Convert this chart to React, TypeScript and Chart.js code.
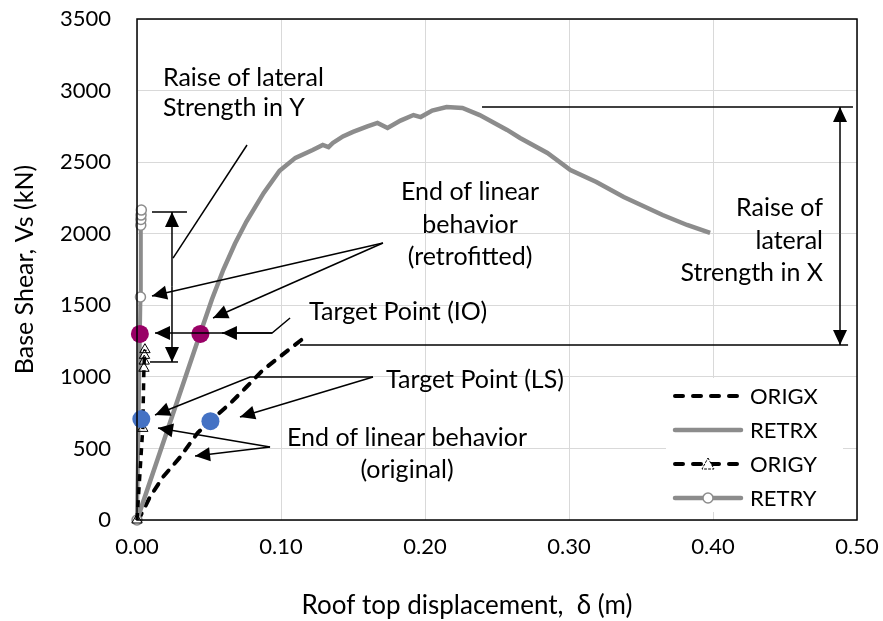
import React, { useEffect, useRef } from "react";
import { Chart, registerables } from "chart.js";

Chart.register(...registerables);

// Axis ticks
const xTickValues = [0, 0.1, 0.2, 0.3, 0.4, 0.5];
const yTickValues = [0, 500, 1000, 1500, 2000, 2500, 3000, 3500];

// Pushover curves: roof top displacement (m) vs base shear (kN)
const origXDisp = [0, 0.002, 0.009, 0.018, 0.03, 0.042, 0.051, 0.065, 0.076, 0.0875, 0.099, 0.115];
const origXShear = [0, 21, 161, 300, 440, 608, 692, 817, 929, 1048, 1139, 1265];

const retrXDisp = [
  0, 0.044, 0.052, 0.06, 0.068, 0.076, 0.088, 0.099, 0.11, 0.122, 0.129, 0.133, 0.136, 0.143, 0.15,
  0.16, 0.167, 0.174, 0.183, 0.192, 0.197, 0.205, 0.215, 0.226, 0.238, 0.257, 0.266, 0.285, 0.301,
  0.319, 0.338, 0.365, 0.382, 0.398,
];
const retrXShear = [
  0, 1306, 1540, 1750, 1930, 2085, 2285, 2440, 2530, 2585, 2620, 2605, 2634, 2680, 2711,
  2750, 2774, 2739, 2790, 2829, 2815, 2860, 2885, 2878, 2829, 2725, 2669, 2564, 2445,
  2361, 2257, 2131, 2061, 2005,
];

const origYDisp = [0, 0.004, 0.0048, 0.005, 0.0052, 0.0055];
const origYShear = [0, 640, 1060, 1110, 1150, 1190];

const retrYDisp = [0, 0.0024, 0.0026, 0.0027, 0.0028, 0.003];
const retrYShear = [0, 1558, 2060, 2100, 2130, 2165];

// Performance targets
const targetIODisp = [0.002, 0.044];
const targetIOShear = [1300, 1300];
const targetLSDisp = [0.003, 0.051];
const targetLSShear = [705, 690];

const seriesNames = ["ORIGX", "RETRX", "ORIGY", "RETRY"];

const GRAY = "#8C8C8C";
const FONT = "Lato, 'Open Sans', sans-serif";

const zip = (xs: number[], ys: number[]) => xs.map((x, i) => ({ x, y: ys[i] }));

type P = [number, number];

// Callout labels (data units)
const calloutTexts: { t: string; at: P; align: CanvasTextAlign }[] = [
  { t: "Raise of lateral", at: [0.018, 3088], align: "left" },
  { t: "Strength in Y", at: [0.018, 2878], align: "left" },
  { t: "End of linear", at: [0.2313, 2291], align: "center" },
  { t: "behavior", at: [0.2313, 2061], align: "center" },
  { t: "(retrofitted)", at: [0.2313, 1837], align: "center" },
  { t: "Target Point (IO)", at: [0.1813, 1453], align: "center" },
  { t: "Target Point (LS)", at: [0.2347, 978], align: "center" },
  { t: "End of linear behavior", at: [0.1875, 573], align: "center" },
  { t: "(original)", at: [0.1875, 349], align: "center" },
  { t: "Raise of", at: [0.4764, 2180], align: "right" },
  { t: "lateral", at: [0.4764, 1949], align: "right" },
  { t: "Strength in X", at: [0.4764, 1726], align: "right" },
];

// Plain leader lines
const leaderLines: P[][] = [
  [[0.0764, 2620], [0.025, 1830]],
  [[0.0104, 2152], [0.0347, 2152]],
  [[0.009, 1104], [0.0285, 1104]],
  [[0.2396, 2885], [0.4972, 2885]],
  [[0.1132, 1223], [0.4938, 1223]],
];

// Leader lines ending in an arrowhead
const arrowLines: P[][] = [
  [[0.0243, 1630], [0.0243, 2152]],
  [[0.0243, 1630], [0.0243, 1104]],
  [[0.1708, 1935], [0.0104, 1565]],
  [[0.1708, 1935], [0.0528, 1411]],
  [[0.1063, 1411], [0.0938, 1306], [0.0125, 1306]],
  [[0.0938, 1306], [0.059, 1306]],
  [[0.1639, 999], [0.0785, 999], [0.0125, 734]],
  [[0.1639, 999], [0.0715, 720]],
  [[0.0924, 510], [0.0146, 643]],
  [[0.0924, 510], [0.0403, 447]],
  [[0.4882, 2000], [0.4882, 2885]],
  [[0.4882, 2000], [0.4882, 1223]],
];

function drawArrowHead(ctx: CanvasRenderingContext2D, fx: number, fy: number, tx: number, ty: number) {
  const ang = Math.atan2(ty - fy, tx - fx);
  const len = 15;
  const half = 7;
  const bx = tx - len * Math.cos(ang);
  const by = ty - len * Math.sin(ang);
  ctx.beginPath();
  ctx.moveTo(tx, ty);
  ctx.lineTo(bx + half * Math.sin(ang), by - half * Math.cos(ang));
  ctx.lineTo(bx - half * Math.sin(ang), by + half * Math.cos(ang));
  ctx.closePath();
  ctx.fill();
}

const decorPlugin = {
  id: "decor",
  afterDatasetsDraw(chart: any) {
    const { ctx, chartArea: ca, scales } = chart;
    const px = (p: P): [number, number] => [scales.x.getPixelForValue(p[0]), scales.y.getPixelForValue(p[1])];
    ctx.save();

    // Legend box inside the plot, bottom right
    const boxR = ca.right - 14;
    const boxB = ca.bottom - 8;
    const boxL = boxR - 177;
    const boxT = boxB - 134;
    ctx.fillStyle = "#fff";
    ctx.fillRect(boxL, boxT, boxR - boxL, boxB - boxT);
    const rowH = 34;
    seriesNames.forEach((name, i) => {
      const cy = boxT + 18 + i * rowH;
      const x0 = boxL + 7;
      const x1 = x0 + 70;
      ctx.save();
      ctx.lineCap = "round";
      if (i === 0 || i === 2) {
        ctx.strokeStyle = "#000";
        ctx.lineWidth = 4;
        ctx.setLineDash([8, 10]);
      } else {
        ctx.strokeStyle = GRAY;
        ctx.lineWidth = 4.5;
        ctx.setLineDash([]);
      }
      ctx.beginPath();
      ctx.moveTo(x0 + 2, cy);
      ctx.lineTo(x1 - 2, cy);
      ctx.stroke();
      ctx.setLineDash([]);
      const mx = (x0 + x1) / 2;
      if (i === 2) {
        ctx.setLineDash([2, 2]);
        ctx.lineWidth = 1;
        ctx.fillStyle = "#fff";
        ctx.beginPath();
        ctx.moveTo(mx, cy - 6);
        ctx.lineTo(mx + 6, cy + 5);
        ctx.lineTo(mx - 6, cy + 5);
        ctx.closePath();
        ctx.fill();
        ctx.stroke();
      } else if (i === 3) {
        ctx.lineWidth = 1.5;
        ctx.fillStyle = "#fff";
        ctx.beginPath();
        ctx.arc(mx, cy, 5, 0, Math.PI * 2);
        ctx.fill();
        ctx.stroke();
      }
      ctx.restore();
      ctx.fillStyle = "#000";
      ctx.font = `22px ${FONT}`;
      ctx.textAlign = "left";
      ctx.textBaseline = "middle";
      ctx.fillText(name, x1 + 7, cy + 1);
    });

    // Callouts
    ctx.strokeStyle = "#000";
    ctx.fillStyle = "#000";
    ctx.lineWidth = 1.5;
    ctx.setLineDash([]);
    leaderLines.forEach((line) => {
      ctx.beginPath();
      line.forEach((p, i) => {
        const [x, y] = px(p);
        if (i === 0) ctx.moveTo(x, y);
        else ctx.lineTo(x, y);
      });
      ctx.stroke();
    });
    arrowLines.forEach((line) => {
      const pts = line.map(px);
      ctx.beginPath();
      pts.forEach(([x, y], i) => {
        if (i === 0) ctx.moveTo(x, y);
        else ctx.lineTo(x, y);
      });
      ctx.stroke();
      const a = pts[pts.length - 2];
      const b = pts[pts.length - 1];
      drawArrowHead(ctx, a[0], a[1], b[0], b[1]);
    });

    ctx.font = `25px ${FONT}`;
    ctx.textBaseline = "middle";
    calloutTexts.forEach(({ t, at, align }) => {
      const [x, y] = px(at);
      ctx.textAlign = align;
      ctx.fillText(t, x, y);
    });

    // Plot area frame
    ctx.lineWidth = 1.5;
    ctx.strokeRect(ca.left, ca.top, ca.right - ca.left, ca.bottom - ca.top);

    // Axis titles
    ctx.font = `26px ${FONT}`;
    ctx.textAlign = "center";
    ctx.fillText("Roof top displacement,  \u03B4 (m)", ca.left + 330, ca.bottom + 86);
    ctx.font = `25px ${FONT}`;
    ctx.translate(25, (ca.top + ca.bottom) / 2);
    ctx.rotate(-Math.PI / 2);
    ctx.fillText("Base Shear, Vs (kN)", 0, 0);
    ctx.restore();
  },
};

export default function App() {
  const canvasRef = useRef<HTMLCanvasElement | null>(null);

  useEffect(() => {
    const canvas = canvasRef.current;
    if (!canvas) return;
    const chart = new Chart(canvas, {
      type: "scatter",
      data: {
        datasets: [
          {
            label: "Target Point (IO)",
            data: zip(targetIODisp, targetIOShear),
            pointRadius: 9,
            backgroundColor: "#990066",
            borderWidth: 0,
            clip: false,
            order: 0,
          },
          {
            label: "Target Point (LS)",
            data: zip(targetLSDisp, targetLSShear),
            pointRadius: 9,
            backgroundColor: "#4472C4",
            borderWidth: 0,
            clip: false,
            order: 1,
          },
          {
            label: "ORIGY",
            data: zip(origYDisp, origYShear),
            showLine: true,
            borderColor: "#000",
            borderWidth: 3.5,
            borderDash: [7, 6],
            pointStyle: "triangle",
            pointRadius: 6,
            pointBackgroundColor: "rgba(255,255,255,0)",
            pointBorderColor: "#000",
            pointBorderWidth: 1,
            clip: false,
            order: 2,
          },
          {
            label: "RETRY",
            data: zip(retrYDisp, retrYShear),
            showLine: true,
            borderColor: GRAY,
            borderWidth: 4,
            pointStyle: "circle",
            pointRadius: 5,
            pointBackgroundColor: "#fff",
            pointBorderColor: GRAY,
            pointBorderWidth: 1.5,
            clip: false,
            order: 3,
          },
          {
            label: "RETRX",
            data: zip(retrXDisp, retrXShear),
            showLine: true,
            borderColor: GRAY,
            borderWidth: 4.5,
            pointRadius: 0,
            tension: 0,
            clip: false,
            order: 4,
          },
          {
            label: "ORIGX",
            data: zip(origXDisp, origXShear),
            showLine: true,
            borderColor: "#000",
            borderWidth: 4,
            borderDash: [8, 9],
            borderCapStyle: "round",
            pointRadius: 0,
            clip: false,
            order: 5,
          },
        ] as any,
      },
      options: {
        animation: false,
        responsive: false,
        devicePixelRatio: 1,
        layout: { padding: { top: 19, right: 26, left: 0, bottom: 0 } },
        plugins: { legend: { display: false }, tooltip: { enabled: false } },
        scales: {
          x: {
            type: "linear",
            min: 0,
            max: 0.5,
            afterBuildTicks: (s: any) => {
              s.ticks = xTickValues.map((v) => ({ value: v }));
            },
            afterFit: (s: any) => {
              s.height = 101;
              s.paddingLeft = 0;
              s.paddingRight = 0;
            },
            ticks: {
              color: "#000",
              font: { family: FONT, size: 22 },
              padding: 14,
              callback: (v: any) => Number(v).toFixed(2),
            },
            grid: { color: "#D9D9D9", lineWidth: 1, drawTicks: false },
            border: { display: false },
          },
          y: {
            type: "linear",
            min: 0,
            max: 3500,
            afterBuildTicks: (s: any) => {
              s.ticks = yTickValues.map((v) => ({ value: v }));
            },
            afterFit: (s: any) => {
              s.width = 137;
              s.paddingTop = 0;
              s.paddingBottom = 0;
            },
            ticks: {
              color: "#000",
              font: { family: FONT, size: 22 },
              padding: 26,
              callback: (v: any) => String(v),
            },
            grid: { color: "#D9D9D9", lineWidth: 1, drawTicks: false },
            border: { display: false },
          },
        },
      },
      plugins: [decorPlugin],
    });
    return () => chart.destroy();
  }, []);

  return (
    <div style={{ position: "fixed", left: 0, top: 0, width: 883, height: 621, background: "#fff" }}>
      <canvas ref={canvasRef} width={883} height={621} style={{ display: "block" }} />
    </div>
  );
}
